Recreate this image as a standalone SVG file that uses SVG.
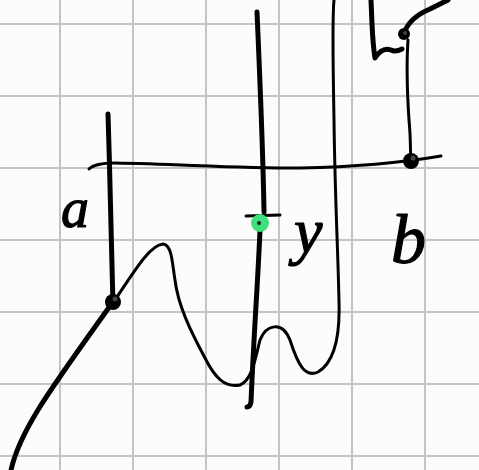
<svg xmlns="http://www.w3.org/2000/svg" width="479" height="470" viewBox="0 0 479 470">
<style>
.grid line{stroke:#c4c4c4;stroke-width:2}
.ink{fill:none;stroke:#000;stroke-linecap:round;stroke-linejoin:round}
.thick{stroke-width:5}
.thin{stroke-width:3}
.dot{fill:#000}
.lbl{font-family:"Liberation Serif","DejaVu Serif",serif;font-style:italic;fill:#000;stroke:#000;stroke-width:1.2;stroke-linejoin:round}
</style>
<rect width="479" height="470" fill="#fcfcfc"/>
<g class="grid">
<line x1="60" y1="0" x2="60" y2="470"/>
<line x1="133" y1="0" x2="133" y2="470"/>
<line x1="206" y1="0" x2="206" y2="470"/>
<line x1="279" y1="0" x2="279" y2="470"/>
<line x1="352" y1="0" x2="352" y2="470"/>
<line x1="425" y1="0" x2="425" y2="470"/>
<line x1="0" y1="24" x2="479" y2="24"/>
<line x1="0" y1="96" x2="479" y2="96"/>
<line x1="0" y1="168" x2="479" y2="168"/>
<line x1="0" y1="240" x2="479" y2="240"/>
<line x1="0" y1="312" x2="479" y2="312"/>
<line x1="0" y1="384" x2="479" y2="384"/>
<line x1="0" y1="456" x2="479" y2="456"/>
</g>
<g id="connectors">
<path class="ink thin" d="M89,169 Q95,163 115,163 C180,164 230,168 300,168 C350,167 400,163 441,156"/>
<path class="ink thick" d="M108,114 C110,180 112,250 113,305"/>
<path class="ink thick" d="M11,470 C20,430 50,390 110,306"/>
<path class="ink thin" d="M115,300 C135,270 150,245 163,244 C172,245 172,262 175,280 C178,305 190,330 205,358 C215,378 225,388 240,385 C252,380 255,360 260,340 C266,325 282,320 290,340 C298,365 305,378 318,372 C335,362 340,335 339,302 C338,250 335,200 334,120 C333,60 332,20 334,0"/>
<path class="ink thick" d="M257,12 C260,80 263,150 264,212"/>
<path class="ink thick" d="M260,230 C258,280 254,330 251,402 Q250,407 247,407"/>
<path class="ink thin" d="M246,216 L280,215"/>
<path class="ink thick" d="M371,0 C372,20 372,40 375,58 C380,50 386,48 391,50 C395,52 398,51 402,49"/>
<path class="ink thick" d="M404,33 C408,22 418,14 430,9 C438,5 444,2 448,0"/>
<path class="ink thin" d="M408,40 C406,70 407,90 409,120 C411,140 410,150 411,160"/>
</g>
<g id="node-a-dot"><circle class="dot" cx="113" cy="302" r="8"/><circle cx="115" cy="299" r="2.5" fill="#444"/></g>
<g id="node-b-dot"><circle class="dot" cx="411" cy="161" r="8"/><circle cx="413" cy="158" r="2.5" fill="#444"/></g>
<g id="node-top-dot"><circle class="dot" cx="404" cy="34" r="6"/><circle cx="405" cy="33" r="2" fill="#444"/></g>
<g id="node-y-dot"><circle cx="260" cy="223" r="9" fill="#3ee07c"/><circle cx="259" cy="223" r="2" fill="#222"/></g>
<g id="label-a"><text class="lbl" x="61" y="227" font-size="56">a</text></g>
<g id="label-y"><text class="lbl" x="294" y="252" font-size="64">y</text></g>
<g id="label-b"><text class="lbl" x="391" y="263" font-size="70">b</text></g>
</svg>
